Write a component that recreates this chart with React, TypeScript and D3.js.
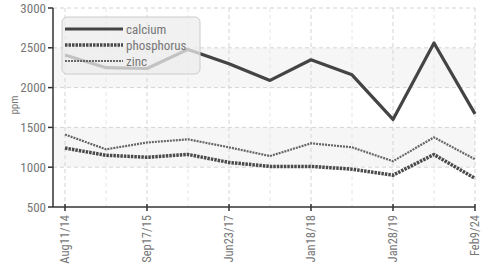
import React, { useRef, useEffect } from 'react';
import * as d3 from 'd3';

const categories = [
    'Aug11/14', 'Feb3/15', 'Sep17/15', 'Jul6/16', 'Jun23/17', 'Oct2/17',
    'Jan18/18', 'Jul9/18', 'Jan28/19', 'Mar4/21', 'Feb9/24',
];
const calcium = [2410, 2250, 2240, 2480, 2300, 2090, 2350, 2160, 1600, 2560, 1670];
const phosphorus = [1240, 1150, 1125, 1160, 1060, 1010, 1010, 975, 900, 1160, 860];
const zinc = [1410, 1225, 1310, 1350, 1250, 1140, 1300, 1250, 1075, 1375, 1100];
const yTicks = [500, 1000, 1500, 2000, 2500, 3000];
const bands = [[1000, 1500], [2000, 2500]];

const series = [
    { name: 'calcium', values: calcium, color: '#444', width: 3.2, dash: null },
    { name: 'phosphorus', values: phosphorus, color: '#4a4a4a', width: 3.5, dash: '2.5,1' },
    { name: 'zinc', values: zinc, color: '#666', width: 2.2, dash: '2,1' },
];

const W = 484;
const H = 273;
const font = "'Liberation Sans Narrow', 'Roboto Condensed', Roboto, sans-serif";

const App: React.FC = () => {
    const svgRef = useRef<SVGSVGElement>(null);

    useEffect(() => {
        if (!svgRef.current) return;
        const svg = d3.select(svgRef.current);
        svg.selectAll('*').remove();

        const margin = { top: 8, right: 9, bottom: 66, left: 53 };
        const innerW = W - margin.left - margin.right;
        const innerH = H - margin.top - margin.bottom;

        const x = d3.scalePoint<string>()
            .domain(categories)
            .range([12, 422]);
        const y = d3.scaleLinear().domain([500, 3000]).range([innerH, 0]);

        const g = svg.append('g')
            .attr('transform', `translate(${margin.left},${margin.top})`);

        // alternating bands
        bands.forEach(([a, b]) => {
            g.append('rect')
                .attr('x', 0)
                .attr('y', y(b))
                .attr('width', innerW)
                .attr('height', y(a) - y(b))
                .attr('fill', '#f6f6f6');
        });

        // grid
        yTicks.slice(1).forEach(t => {
            g.append('line')
                .attr('x1', 0).attr('x2', innerW)
                .attr('y1', y(t)).attr('y2', y(t))
                .attr('stroke', '#d4d4d4')
                .attr('stroke-dasharray', '4,3');
        });
        categories.forEach((c, i) => {
            g.append('line')
                .attr('x1', x(c)!).attr('x2', x(c)!)
                .attr('y1', 0).attr('y2', innerH)
                .attr('stroke', i % 2 === 0 ? '#d4d4d4' : '#e6e6e6')
                .attr('stroke-dasharray', '4,3');
        });

        // lines
        const line = d3.line<number>()
            .x((_, i) => x(categories[i])!)
            .y(d => y(d));
        series.forEach(s => {
            g.append('path')
                .datum(s.values)
                .attr('d', line)
                .attr('fill', 'none')
                .attr('stroke', s.color)
                .attr('stroke-width', s.width)
                .attr('stroke-dasharray', s.dash)
                .attr('stroke-linejoin', 'round');
        });

        // y axis
        g.append('line')
            .attr('x1', 0).attr('x2', 0)
            .attr('y1', 0).attr('y2', innerH)
            .attr('stroke', '#333').attr('stroke-width', 1.5);
        yTicks.forEach(t => {
            g.append('line')
                .attr('x1', -5).attr('x2', 0)
                .attr('y1', y(t)).attr('y2', y(t))
                .attr('stroke', '#333').attr('stroke-width', 1.5);
            g.append('text')
                .attr('x', -7)
                .attr('y', y(t))
                .attr('dy', '0.35em')
                .attr('text-anchor', 'end')
                .attr('font-family', font)
                .attr('font-size', 13)
                .attr('fill', '#777')
                .text(t);
        });

        // x axis
        g.append('line')
            .attr('x1', 0).attr('x2', innerW)
            .attr('y1', innerH).attr('y2', innerH)
            .attr('stroke', '#333').attr('stroke-width', 1.5);
        categories.forEach((c, i) => {
            if (i % 2 !== 0) return;
            g.append('line')
                .attr('x1', x(c)!).attr('x2', x(c)!)
                .attr('y1', innerH - 3).attr('y2', innerH + 4)
                .attr('stroke', '#333').attr('stroke-width', 1.5);
            g.append('text')
                .attr('transform', `translate(${x(c)},${innerH + 8}) rotate(-90)`)
                .attr('dy', '0.35em')
                .attr('text-anchor', 'end')
                .attr('font-family', font)
                .attr('font-size', 12.5)
                .attr('fill', '#777')
                .text(c);
        });

        // y label
        svg.append('text')
            .attr('transform', `translate(14,105) rotate(-90)`)
            .attr('dy', '0.35em')
            .attr('text-anchor', 'middle')
            .attr('font-family', font)
            .attr('font-size', 11)
            .attr('fill', '#777')
            .text('ppm');

        // legend
        const lg = svg.append('g').attr('transform', 'translate(62,17)');
        lg.append('rect')
            .attr('width', 138).attr('height', 57)
            .attr('rx', 5)
            .attr('fill', '#ececec')
            .attr('fill-opacity', 0.75)
            .attr('stroke', '#ccc');
        series.forEach((s, i) => {
            const ly = 12 + i * 16;
            lg.append('line')
                .attr('x1', 3).attr('x2', 61)
                .attr('y1', ly).attr('y2', ly)
                .attr('stroke', s.color)
                .attr('stroke-width', s.width)
                .attr('stroke-dasharray', s.dash);
            lg.append('text')
                .attr('x', 64).attr('y', ly)
                .attr('dy', '0.35em')
                .attr('font-family', font)
                .attr('font-size', 13)
                .attr('fill', '#777')
                .text(s.name);
        });
    }, []);

    return (
        <svg ref={svgRef} width={W} height={H}
            style={{ position: 'absolute', left: 0, top: 0, background: '#fff' }} />
    );
};

export default App;
